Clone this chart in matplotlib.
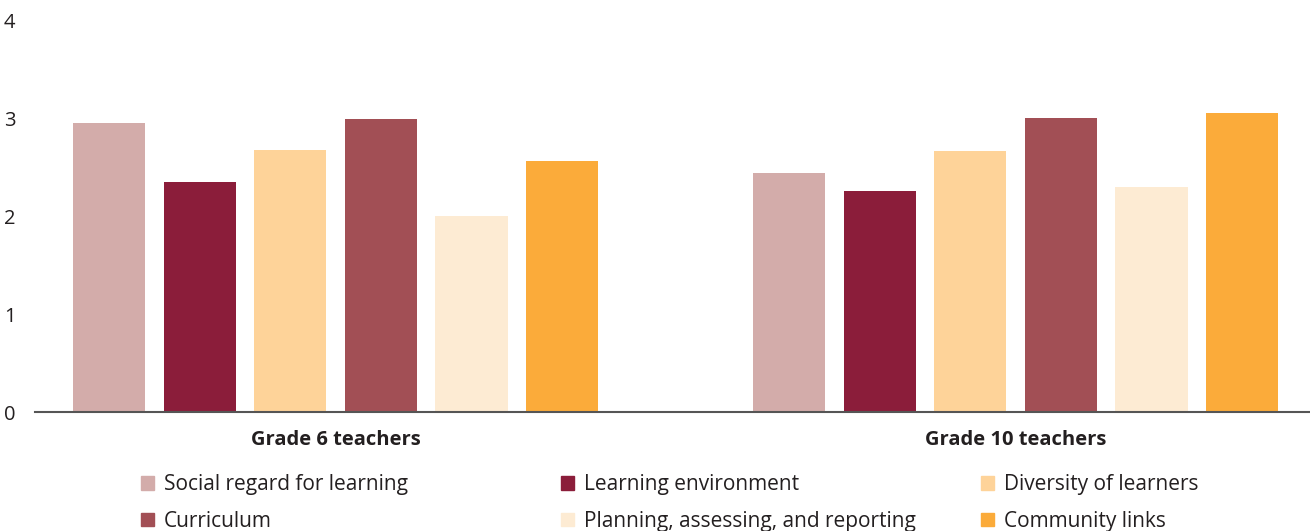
import matplotlib.pyplot as plt
import numpy as np
from matplotlib.patches import Patch

plt.rcParams["font.family"] = ["Open Sans", "DejaVu Sans"]

groups = ["Grade 6 teachers", "Grade 10 teachers"]
series = ["Social regard for learning", "Learning environment", "Diversity of learners",
          "Curriculum", "Planning, assessing, and reporting", "Community links"]
colors = ["#D3ACAA", "#8B1D3A", "#FED399", "#A24F55", "#FDEBD3", "#FBAB3A"]
values = {
    "Social regard for learning": [2.95, 2.44],
    "Learning environment": [2.35, 2.26],
    "Diversity of learners": [2.67, 2.66],
    "Curriculum": [2.99, 3.00],
    "Planning, assessing, and reporting": [2.00, 2.30],
    "Community links": [2.56, 3.05],
}

fig = plt.figure(figsize=(13.1, 5.31), dpi=100)
ax = fig.add_axes([35 / 1310, 1 - 412 / 531, 1 - 35 / 1310, (412 - 20) / 531])

x = np.arange(len(groups))
pitch = 0.1333
width = 0.106
for i, s in enumerate(series):
    ax.bar(x + (i - 2.5) * pitch, values[s], width, color=colors[i], label=s, zorder=2)

ax.set_xlim(-0.442, 1.433)
ax.set_ylim(0, 4)
ax.set_yticks([0, 1, 2, 3, 4])
ax.tick_params(axis="y", length=0, pad=14, labelsize=14.5, labelcolor="#231F20")
ax.set_xticks(x)
ax.set_xticklabels(groups, fontweight="bold", fontsize=14.5, color="#231F20")
ax.tick_params(axis="x", length=0, pad=13)
for sp in ["top", "right", "left"]:
    ax.spines[sp].set_visible(False)
ax.spines["bottom"].set_color("#555555")
ax.spines["bottom"].set_linewidth(1.5)

# legend, three columns placed separately
cols = [(0, 3), (1, 4), (2, 5)]
xs = [133, 553, 973]
for (a, b), xp in zip(cols, xs):
    handles = [Patch(color=colors[a]), Patch(color=colors[b])]
    leg = fig.legend(handles, [series[a], series[b]], loc="upper left",
                     bbox_to_anchor=(xp / 1310, 1 - 466 / 531), frameon=False,
                     fontsize=15, handlelength=0.62, handleheight=0.62,
                     handletextpad=0.45, labelspacing=0.75, borderaxespad=0)
    for t in leg.get_texts():
        t.set_color("#231F20")

fig.savefig("out.png", dpi=100)
